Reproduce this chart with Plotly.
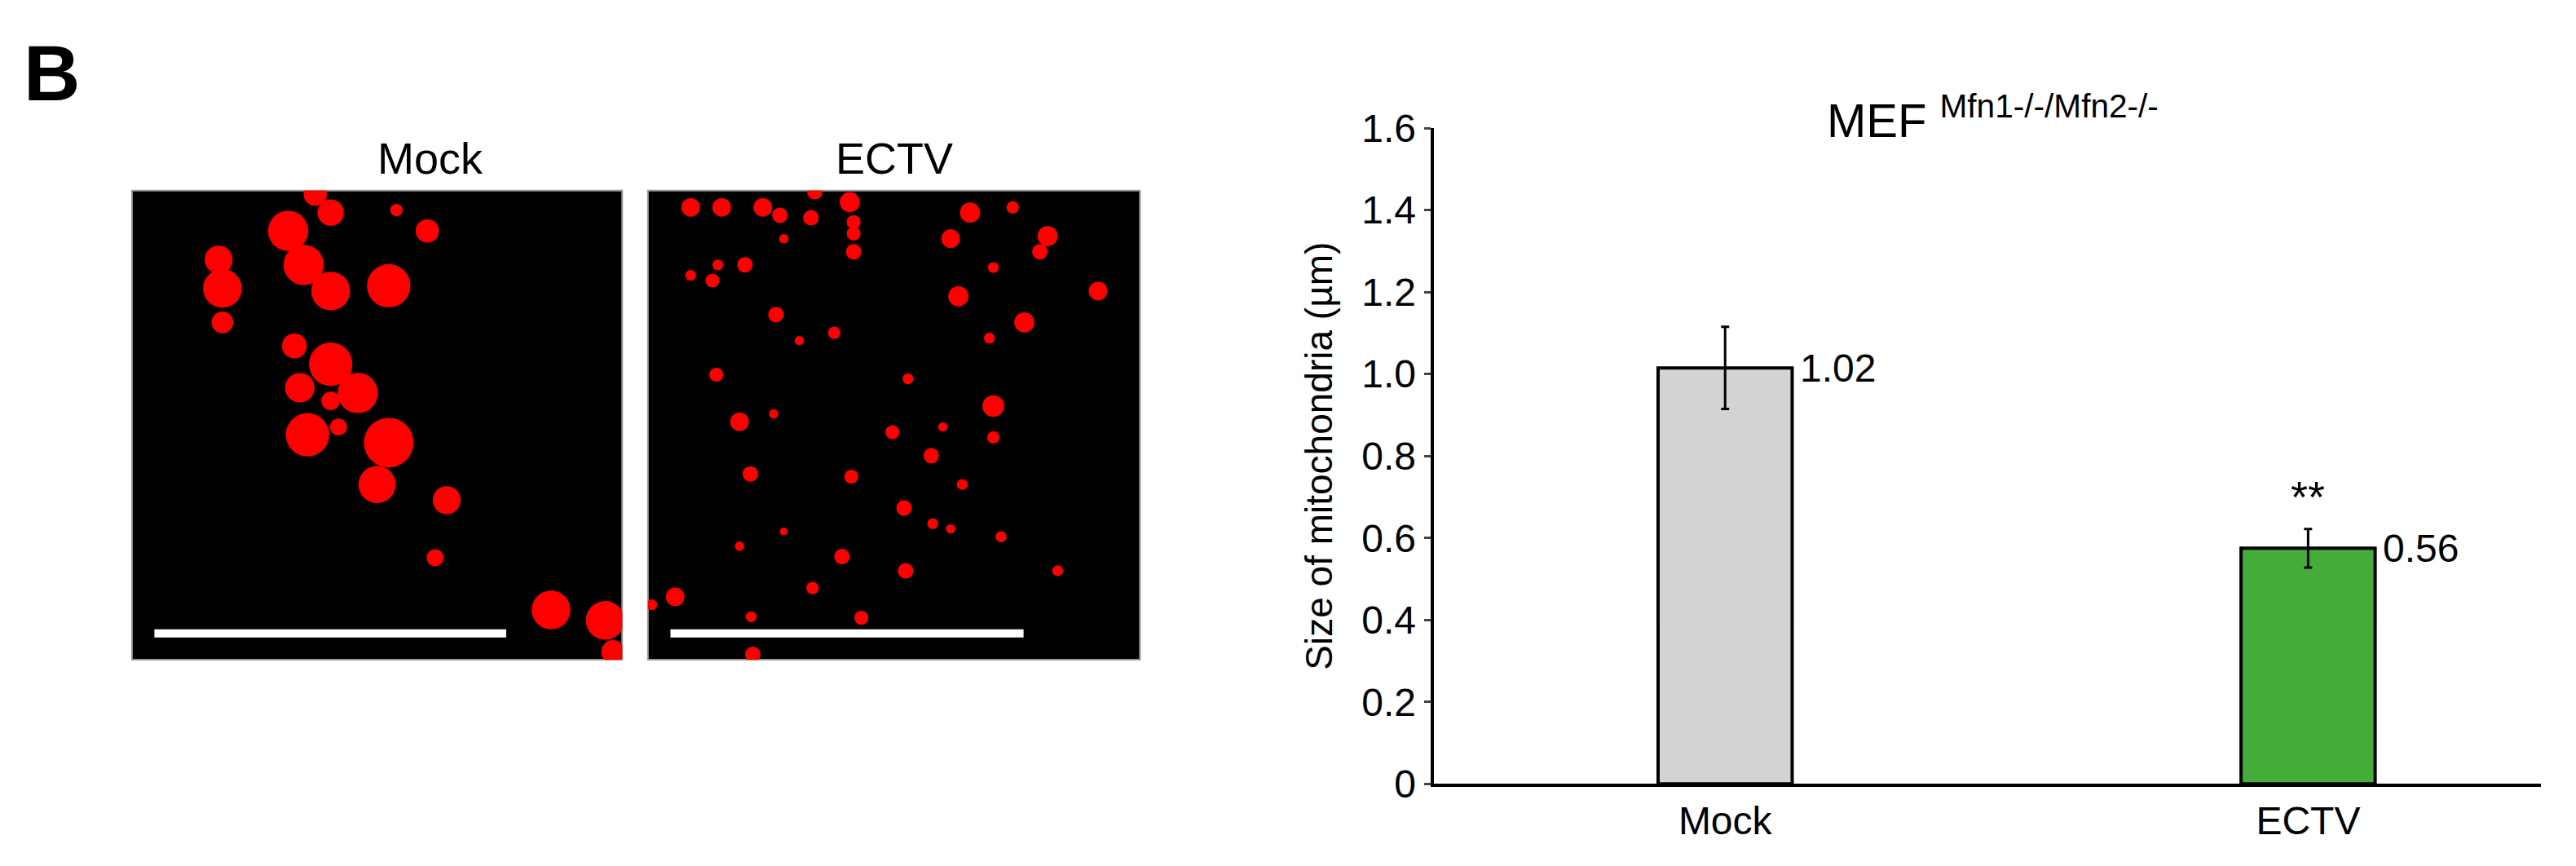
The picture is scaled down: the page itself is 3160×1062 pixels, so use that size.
import plotly.graph_objects as go

categories = ["Mock", "ECTV"]
values = [1.015, 0.575]
errors = [0.10, 0.047]
value_labels = ["1.02", "0.56"]
bar_colors = ["#d3d3d3", "#44ad3a"]
y_ticks = [0, 0.2, 0.4, 0.6, 0.8, 1.0, 1.2, 1.4, 1.6]
y_tick_labels = ["0", "0.2", "0.4", "0.6", "0.8", "1.0", "1.2", "1.4", "1.6"]

# micrograph blobs (approximate, panel pixel coords from reference)
mock_blobs = [(400,325,30),(420,360,34),(365,395,52),(545,395,30),(505,355,16),(275,450,36),(280,505,50),
              (385,460,52),(420,510,50),(495,500,56),(280,570,28),(373,615,32),(420,650,56),(455,705,52),
              (380,695,38),(390,785,56),(495,800,64),(480,880,48),(570,910,36),(555,1020,22),(705,1120,50),
              (775,1140,50),(785,1200,30),(420,720,24),(430,770,22)]
ectv_blobs = [(885,350,24),(925,350,24),(978,350,24),(1000,365,20),(1040,370,20),(1045,320,20),(1090,340,26),
              (1095,378,18),(1095,400,18),(1095,435,20),(1245,360,26),(1220,410,24),(1300,350,16),(1345,405,26),
              (1335,435,20),(1275,465,14),(1410,510,24),(1230,520,26),(1315,570,26),(1270,600,14),(955,460,20),
              (920,460,14),(885,480,14),(913,490,18),(995,555,20),(1070,590,16),(1025,605,12),(918,670,18),
              (948,760,24),(992,745,12),(1165,678,14),(1275,730,28),(1145,780,18),(1210,770,12),(1275,790,16),
              (1195,825,20),(962,860,20),(1092,865,18),(1235,880,14),(1160,925,20),(1197,955,14),(1220,965,12),
              (1285,980,14),(948,998,12),(1080,1018,20),(1162,1045,20),(1358,1045,14),(1042,1078,16),(865,1095,24),
              (963,1133,14),(1105,1135,18),(965,1205,20),(1005,410,12),(1005,970,10),(835,1110,14)]

fig = go.Figure()

fig.add_trace(go.Bar(x=[0, 1], y=values, width=0.23, marker=dict(color=bar_colors, line=dict(color="black", width=4)),
                     error_y=dict(type="data", array=errors, color="black", thickness=3, width=5),
                     xaxis="x", yaxis="y", showlegend=False))
for i, (v, lab) in enumerate(zip(values, value_labels)):
    fig.add_annotation(x=i + 0.125, y=v, text=lab, showarrow=False, xanchor="left", xref="x", yref="y",
                       font=dict(size=48, color="black"))
fig.add_annotation(x=1, y=0.70, text="**", showarrow=False, xref="x", yref="y", font=dict(size=54, color="black"))

def panel(blobs, x0, xref, yref):
    xs = [(b[0]-x0)/634 for b in blobs]
    ys = [1-(b[1]-318)/897 for b in blobs]
    sz = [b[2]*0.95 for b in blobs]
    fig.add_trace(go.Scatter(x=xs, y=ys, mode="markers", opacity=1,
                             marker=dict(color="#ff0000", size=sz, opacity=1, line=dict(width=0)),
                             xaxis=xref, yaxis=yref, showlegend=False, hoverinfo="skip", cliponaxis=True))

panel(mock_blobs, 163, "x2", "y2")
panel(ectv_blobs, 830, "x3", "y3")

ax_img = dict(range=[0, 1], showgrid=False, zeroline=False, showticklabels=False, ticks="", fixedrange=True)
fig.update_layout(
    width=3160, height=1062, margin=dict(l=0, r=0, t=0, b=0),
    paper_bgcolor="white", plot_bgcolor="white",
    font=dict(family="Liberation Sans, Arial", color="black"),
    xaxis=dict(domain=[0.554, 0.984], range=[-0.5, 1.4], tickvals=[0, 1], ticktext=categories,
               showline=True, linecolor="black", linewidth=4, ticks="", tickfont=dict(size=48), zeroline=False,
               showgrid=False),
    yaxis=dict(domain=[0.081, 0.878], range=[0, 1.6], tickvals=y_ticks, ticktext=y_tick_labels,
               showline=True, linecolor="black", linewidth=4, ticks="outside", ticklen=8, tickwidth=3,
               tickfont=dict(size=48), showgrid=False, zeroline=False,
               title=dict(text="Size of mitochondria (µm)", font=dict(size=46), standoff=22)),
    xaxis2=dict(domain=[0.0487, 0.239], anchor="y2", **ax_img),
    yaxis2=dict(domain=[0.232, 0.802], anchor="x2", **ax_img),
    xaxis3=dict(domain=[0.249, 0.44], anchor="y3", **ax_img),
    yaxis3=dict(domain=[0.232, 0.802], anchor="x3", **ax_img),
)
for xr, yr in [("x2", "y2"), ("x3", "y3")]:
    fig.add_shape(type="rect", xref=xr + " domain", yref=yr + " domain", x0=0, x1=1, y0=0, y1=1,
                  fillcolor="black", line=dict(color="#999999", width=2), layer="below")
    fig.add_shape(type="line", xref=xr + " domain", yref=yr + " domain",
                  x0=29/634, x1=484/634, y0=1-(1165-318)/897, y1=1-(1165-318)/897,
                  line=dict(color="white", width=10))

fig.add_annotation(x=0.1435, y=0.81, xref="paper", yref="paper", text="Mock", showarrow=False,
                   yanchor="bottom", font=dict(size=54))
fig.add_annotation(x=0.3445, y=0.81, xref="paper", yref="paper", text="ECTV", showarrow=False,
                   yanchor="bottom", font=dict(size=54))
fig.add_annotation(x=0.006, y=1.0, xref="paper", yref="paper", text="<b>B</b>", showarrow=False,
                   xanchor="left", yanchor="top", font=dict(size=96))
fig.add_annotation(x=0.706, y=0.93, xref="paper", yref="paper", text="MEF <sup>Mfn1-/-/Mfn2-/-</sup>",
                   showarrow=False, xanchor="left", font=dict(size=58))

fig.write_html("out.html")
